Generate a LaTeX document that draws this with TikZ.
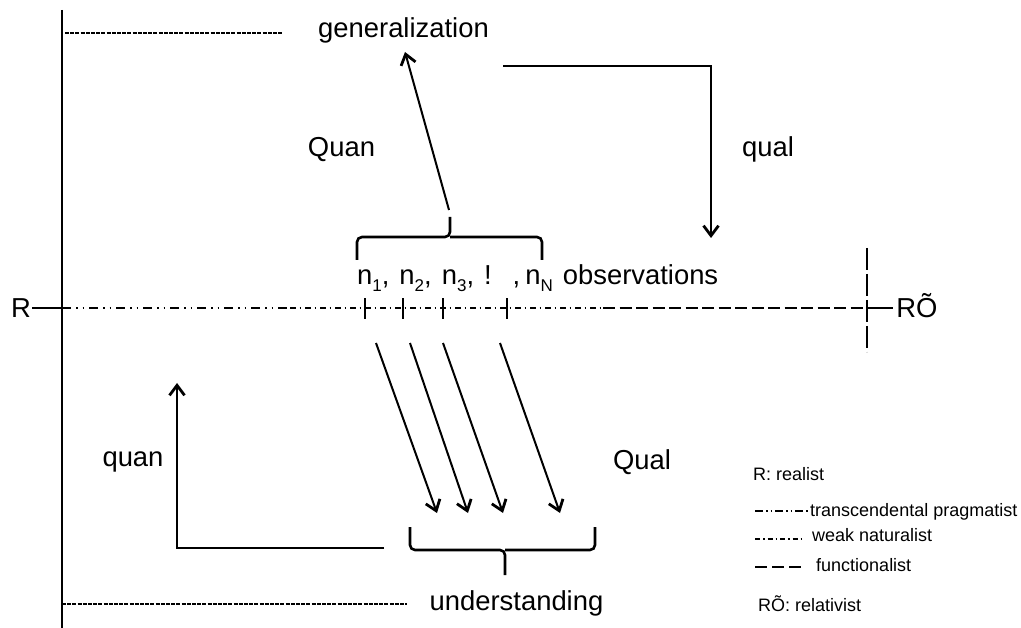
\documentclass[tikz,border=0pt]{standalone}
\usepackage{fontspec}
\setmainfont{Liberation Sans}
\usetikzlibrary{arrows.meta}
\newcommand\lowsub[1]{\raisebox{-7pt}{\fontsize{17}{17}\selectfont #1}}
\begin{document}
\begin{tikzpicture}[x=1pt,y=-1pt,
  big/.style={font=\fontsize{27.4}{30}\selectfont, inner sep=0pt},
  small/.style={font=\fontsize{18}{20}\selectfont, inner sep=0pt},
  bold line/.style={line width=2.6pt},
  arr/.style={line width=2pt, -{Straight Barb[length=10pt,width=15pt,line width=2.8pt]}},
  elbow/.style={line width=2.6pt, -{Straight Barb[length=10pt,width=15pt,line width=2.8pt]}},
  brace line/.style={line width=2.6pt, rounded corners=5pt},
  fine dash/.style={line width=1.4pt, dash pattern=on 4pt off 1.2pt},
  pragmatist/.style={line width=2pt, dash pattern=on 9pt off 5pt on 1.5pt off 5pt on 1.5pt off 5pt},
  naturalist/.style={line width=2pt, dash pattern=on 6pt off 3.5pt on 1.5pt off 4pt},
  functionalist/.style={line width=2pt, dash pattern=on 12pt off 4.5pt},
]
\useasboundingbox (0,0) rectangle (1021,628);

% left border line
\coordinate (ltop) at (62,10);
\coordinate (lbot) at (62,628);
\draw[bold line] (ltop) -- (lbot);

% generalization and the fine dashed guide
\node[big, anchor=base] (gen) at (403.5,38) {generalization};
\coordinate (gdashL) at (65,33);
\coordinate (gdashR) at (283,33);
\draw[fine dash] (gdashL) -- (gdashR);

% understanding and the fine dashed guide
\node[big, anchor=base] (und) at (516.5,610) {understanding};
\coordinate (udashL) at (62,604);
\coordinate (udashR) at (407,604);
\draw[fine dash] (udashL) -- (udashR);

% side labels
\node[big, anchor=base] (Quan) at (341.5,157) {Quan};
\node[big, anchor=base] (qual) at (768,157) {qual};
\node[big, anchor=base] (quan) at (133,467) {quan};
\node[big, anchor=base] (Qual) at (642,470) {Qual};

% the axis from R to RÕ
\node[big, anchor=base] (R) at (21,318) {R};
\node[big, anchor=base] (RO) at (917,318) {RÕ};
\coordinate (a0) at (62,308);
\coordinate (a1) at (290,308);
\coordinate (a2) at (603,308);
\coordinate (a3) at (867,308);
\draw[bold line] ([xshift=1pt]R.east |- a0) -- (a0);
\draw[pragmatist] (a0) -- (a1);
\draw[naturalist] (a1) -- (a2);
\draw[functionalist] (a2) -- (a3);
\draw[bold line] (a3) -- ([xshift=-3pt]RO.west |- a3);
\coordinate (vtop) at (867,248);
\coordinate (vbot) at (867,352);
\draw[line width=2pt, dash pattern=on 22pt off 4pt] (vtop) -- (vbot);

% observation ticks
\foreach \x/\n in {365/t1, 403/t2, 443/t3, 507/tN} {
  \coordinate (\n) at (\x,308);
  \draw[bold line] ([yshift=-11pt]\n) -- ([yshift=10pt]\n);
}

% observations label
\node[big, anchor=base west] (obs) at (357,285)
  {n\lowsub{1},\hspace{10pt}n\lowsub{2},\hspace{10pt}n\lowsub{3},\hspace{10pt}!\hspace{21pt},\hspace{5pt}n\lowsub{N}\hspace{10pt}observations};

% upper brace and the Quan arrow to generalization
\draw[brace line] (357,260) -- (357,237) -- (450,237) -- (450,217);
\draw[brace line] (542,260) -- (542,237) -- (450,237);
\coordinate (gfrom) at (449,210);
\coordinate (gto) at (405,52);
\draw[arr] (gfrom) -- (gto);

% qual elbow from generalization down to the observations
\coordinate (qs) at (503,66);
\coordinate (qc) at (711,66);
\coordinate (qe) at (711,238);
\draw[elbow] (qs) -- (qc) -- (qe);

% Qual arrows from the observations to understanding
\coordinate (d1s) at (376,343); \coordinate (d1e) at (437,513);
\coordinate (d2s) at (410,343); \coordinate (d2e) at (468,513);
\coordinate (d3s) at (443,343); \coordinate (d3e) at (503,513);
\coordinate (d4s) at (500,343); \coordinate (d4e) at (560,513);
\draw[arr] (d1s) -- (d1e);
\draw[arr] (d2s) -- (d2e);
\draw[arr] (d3s) -- (d3e);
\draw[arr] (d4s) -- (d4e);

% lower brace
\draw[brace line] (410,527) -- (410,550) -- (505,550) -- (505,575);
\draw[brace line] (595,527) -- (595,550) -- (505,550);

% quan elbow from understanding back up
\coordinate (us) at (384,548);
\coordinate (uc) at (177,548);
\coordinate (ue) at (177,383);
\draw[elbow] (us) -- (uc) -- (ue);

% legend
\node[small, anchor=base west] (lgR) at (753,480) {R: realist};
\coordinate (l1a) at (755,511); \coordinate (l1b) at (808,511);
\draw[pragmatist, dash pattern=on 8pt off 3pt on 1.5pt off 3pt on 1.5pt off 3pt] (l1a) -- (l1b);
\node[small, anchor=base west] (lg1) at (810,516) {transcendental pragmatist};
\coordinate (l2a) at (755,539); \coordinate (l2b) at (803,539);
\draw[naturalist, dash pattern=on 5pt off 3pt on 1.5pt off 3pt] (l2a) -- (l2b);
\node[small, anchor=base west] (lg2) at (812,541) {weak naturalist};
\coordinate (l3a) at (755,567); \coordinate (l3b) at (802,567);
\draw[functionalist, dash pattern=on 12pt off 5pt] (l3a) -- (l3b);
\node[small, anchor=base west] (lg3) at (816,571) {functionalist};
\node[small, anchor=base west] (lgRO) at (758,611) {RÕ: relativist};
\end{tikzpicture}
\end{document}
